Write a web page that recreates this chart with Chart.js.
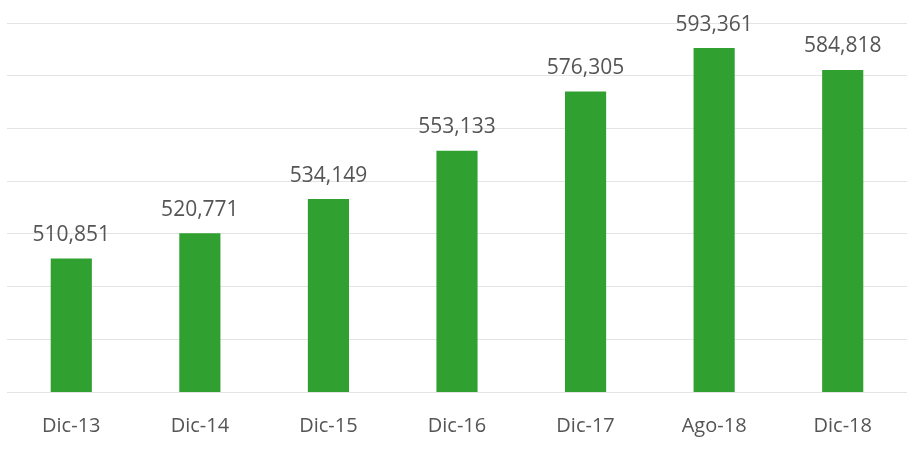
<!DOCTYPE html>
<html>
<head>
<meta charset="utf-8">
<script src="https://cdn.jsdelivr.net/npm/chart.js@4"></script>
<style>
  html, body { margin: 0; padding: 0; background: #fff; }
  #wrap { width: 924px; height: 458px; }
</style>
</head>
<body>
<div id="wrap"><canvas id="c" width="924" height="458"></canvas></div>
<script>
// categories and values
const categories = ['Dic-13', 'Dic-14', 'Dic-15', 'Dic-16', 'Dic-17', 'Ago-18', 'Dic-18'];
const values = [510851, 520771, 534149, 553133, 576305, 593361, 584818];
const yMin = 458500;
const yMax = 603200;
const gridSteps = 7;

const green = '#30a030';
const textGray = '#555555';

// value labels above each bar
const barLabels = {
  id: 'barLabels',
  afterDatasetsDraw(chart) {
    const ctx = chart.ctx;
    const meta = chart.getDatasetMeta(0);
    ctx.save();
    ctx.font = "21px 'Open Sans', sans-serif";
    ctx.fillStyle = textGray;
    ctx.textAlign = 'center';
    ctx.textBaseline = 'bottom';
    meta.data.forEach((bar, i) => {
      ctx.fillText(values[i].toLocaleString('en-US'), bar.x, bar.y - 13);
    });
    ctx.restore();
  }
};

new Chart(document.getElementById('c'), {
  type: 'bar',
  data: {
    labels: categories,
    datasets: [{
      data: values,
      backgroundColor: green,
      borderWidth: 0,
      barPercentage: 0.32,
      categoryPercentage: 1
    }]
  },
  options: {
    responsive: false,
    animation: false,
    layout: { padding: { left: 7, right: 17, top: 23, bottom: 0 } },
    plugins: { legend: { display: false }, tooltip: { enabled: false } },
    scales: {
      x: {
        afterFit: axis => { axis.height = 66; },
        grid: { display: false },
        border: { display: false },
        ticks: { color: textGray, font: { family: "'Open Sans', sans-serif", size: 20 }, padding: 14 }
      },
      y: {
        min: yMin,
        max: yMax,
        afterBuildTicks: axis => {
          const t = [];
          for (let k = 0; k <= gridSteps; k++) t.push({ value: yMin + k * (yMax - yMin) / gridSteps });
          axis.ticks = t;
        },
        ticks: { display: false },
        border: { display: false },
        grid: { color: '#e4e4e4', lineWidth: 1, drawTicks: false }
      }
    }
  },
  plugins: [barLabels]
});
</script>
</body>
</html>
